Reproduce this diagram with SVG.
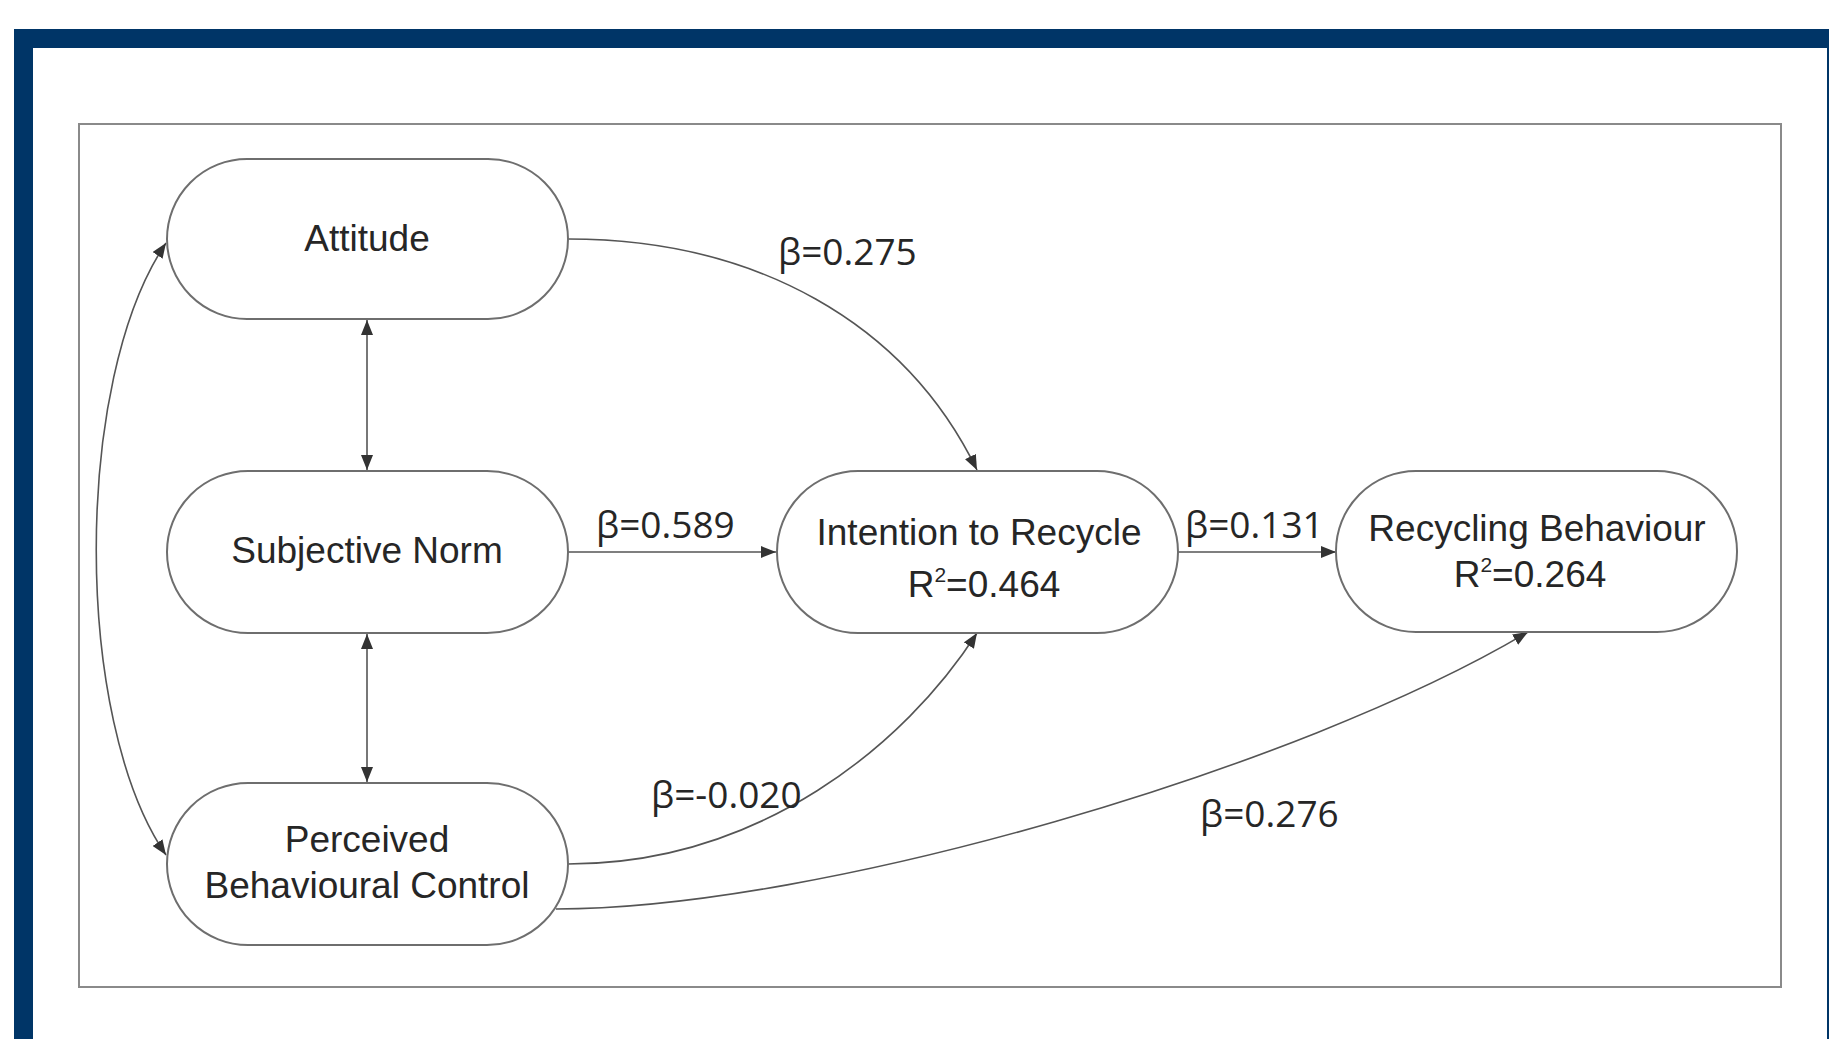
<svg xmlns="http://www.w3.org/2000/svg" width="1829" height="1039" viewBox="0 0 1829 1039">
<style>
.node{fill:#fff;stroke:#6e6e6e;stroke-width:2}
.nt{font-family:"Liberation Sans",Arial,sans-serif;font-size:37px;fill:#262626;text-anchor:middle}
.lb{font-family:"Open Sans","Liberation Sans",sans-serif;font-size:37px;fill:#262626}
.cn{fill:none;stroke:#555;stroke-width:1.6}
</style>
<defs>
<marker id="ah" viewBox="0 0 15 12" refX="15" refY="6" markerWidth="15" markerHeight="12" markerUnits="userSpaceOnUse" orient="auto-start-reverse">
<path d="M0,0 L15,6 L0,12 Z" fill="#333"/>
</marker>
</defs>
<rect width="1829" height="1039" fill="#fff"/>
<g id="frame">
<rect x="14" y="29" width="1815" height="19" fill="#003567"/>
<rect x="14" y="29" width="19" height="1010" fill="#003567"/>
<rect x="1827" y="29" width="2" height="1010" fill="#003567"/>
<rect x="79" y="124" width="1702" height="863" fill="#fff" stroke="#8a8a8a" stroke-width="2"/>
</g>
<g id="connectors">
<path class="cn" d="M568,239 C755,239 905,322 977,470" marker-end="url(#ah)"/>
<path class="cn" d="M568,552 L776,552" marker-end="url(#ah)"/>
<path class="cn" d="M1178,552 L1336,552" marker-end="url(#ah)"/>
<path class="cn" d="M568,864 C760,864 905,745 977,633" marker-end="url(#ah)"/>
<path class="cn" d="M556,909 C820,909 1300,768 1528,632" marker-end="url(#ah)"/>
<path class="cn" d="M367,320 L367,470" marker-start="url(#ah)" marker-end="url(#ah)"/>
<path class="cn" d="M367,634 L367,782" marker-start="url(#ah)" marker-end="url(#ah)"/>
<path class="cn" d="M166,243 C73,380 73,720 166,855" marker-start="url(#ah)" marker-end="url(#ah)"/>
<text class="lb" x="778" y="265">β=0.275</text>
<text class="lb" x="596" y="538">β=0.589</text>
<text class="lb" x="1185" y="538">β=0.131</text>
<text class="lb" x="651" y="808">β=-0.020</text>
<text class="lb" x="1200" y="827">β=0.276</text>
</g>
<g id="attitude">
<rect class="node" x="167" y="159" width="401" height="160" rx="80"/>
<text class="nt" x="367" y="251">Attitude</text>
</g>
<g id="subjective-norm">
<rect class="node" x="167" y="471" width="401" height="162" rx="81"/>
<text class="nt" x="367" y="563">Subjective Norm</text>
</g>
<g id="pbc">
<rect class="node" x="167" y="783" width="401" height="162" rx="81"/>
<text class="nt" x="367" y="852">Perceived</text>
<text class="nt" x="367" y="898">Behavioural Control</text>
</g>
<g id="intention">
<rect class="node" x="777" y="471" width="401" height="162" rx="81"/>
<text class="nt" x="979" y="545">Intention to Recycle</text>
<text class="nt" x="984" y="597">R<tspan font-size="21" dy="-15">2</tspan><tspan dy="15">=0.464</tspan></text>
</g>
<g id="recycling">
<rect class="node" x="1336" y="471" width="401" height="161" rx="80"/>
<text class="nt" x="1537" y="541">Recycling Behaviour</text>
<text class="nt" x="1530" y="587">R<tspan font-size="21" dy="-15">2</tspan><tspan dy="15">=0.264</tspan></text>
</g>
</svg>
